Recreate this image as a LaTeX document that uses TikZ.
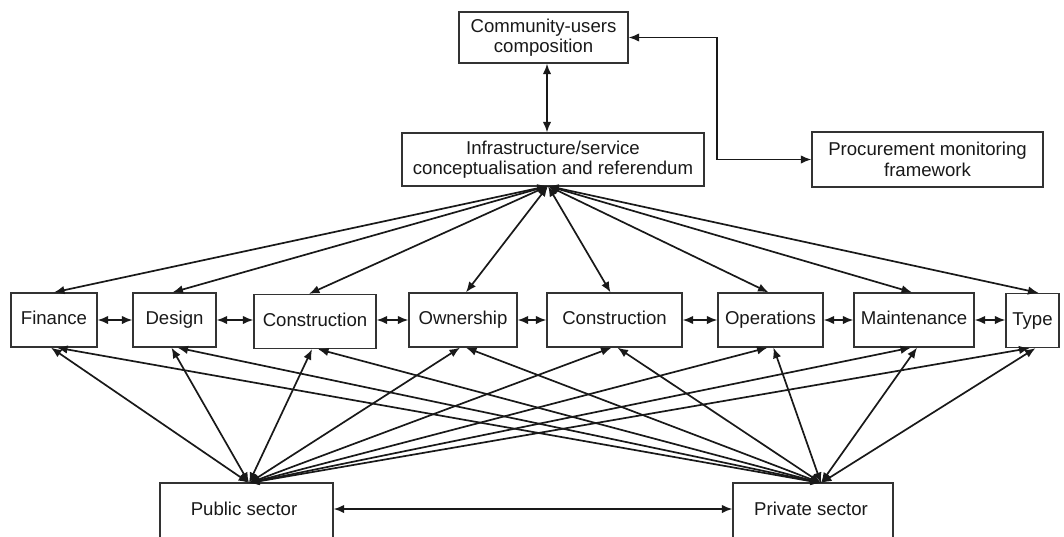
\documentclass[tikz,border=0pt]{standalone}
\usepackage{fontspec}
\setmainfont{Liberation Sans}
\usetikzlibrary{arrows.meta}
\begin{document}
\begin{tikzpicture}[x=1pt,y=-1pt,
  box/.style={draw=black!80, line width=1.3pt, minimum height=54pt, inner sep=0pt, align=center, font=\fontsize{18.6}{20.5}\selectfont, text=black!90},
  rowbox/.style={box, text height=13.5pt, text depth=4pt},
  lbl/.style={inner sep=0pt, font=\fontsize{18.6}{20.5}\selectfont, text=black!90},
  con/.style={line width=1.7pt, draw=black!90, {Latex[length=10.5pt,width=8.5pt]}-{Latex[length=10.5pt,width=8.5pt]}},
]
\clip (0,0) rectangle (1064,536);
\fill[white] (0,0) rectangle (1064,536);
% top boxes
\node[box, minimum width=169pt, minimum height=51pt] (comm) at (543.5,37.5) {Community-users\\composition};
\node[box, minimum width=302pt, minimum height=53pt] (infra) at (553,159.5) {Infrastructure/service\\conceptualisation and referendum};
\node[box, minimum width=231pt, minimum height=55pt] (proc) at (927.5,159.5) {Procurement monitoring\\framework};
% row boxes
\node[rowbox, minimum width=86pt] (fin) at (54,320) {Finance};
\node[rowbox, minimum width=83pt] (des) at (174.5,320) {Design};
\node[rowbox, minimum width=122pt] (con1) at (315,321.5) {Construction};
\node[rowbox, minimum width=108pt] (own) at (463,320) {Ownership};
\node[rowbox, minimum width=135pt] (con2) at (614.5,320) {Construction};
\node[rowbox, minimum width=105pt] (ops) at (770.5,320) {Operations};
\node[rowbox, minimum width=120pt] (mnt) at (914,320) {Maintenance};
\node[rowbox, minimum width=53pt] (typ) at (1032.5,320.5) {Type};
% sector boxes (cut off at the bottom)
\node[box, minimum width=173pt, minimum height=80pt] (pub) at (246.5,523) {};
\node[box, minimum width=160pt, minimum height=80pt] (priv) at (813,523) {};
\node[lbl] (pubt) at (244,509) {Public sector};
\node[lbl] (privt) at (811,509) {Private sector};
% connection points
\coordinate (ca) at (547,0);
\coordinate (elb) at (717,100);
\coordinate (ip) at (548,186);
\coordinate (pp) at (249,483);
\coordinate (vp) at (821,483);
% top connectors
\draw[con] (comm.south -| ca) -- (infra.north -| ca);
\draw[con] (comm.east) -| (elb) |- (proc.west);
% fan from infrastructure
\draw[con] (ip) -- (fin.north);
\draw[con] (ip) -- ([xshift=-2pt]des.north);
\draw[con] (ip) -- ([xshift=-6pt]con1.north);
\draw[con] (ip) -- ([xshift=3pt]own.north);
\draw[con] (ip) -- ([xshift=-4pt]con2.north);
\draw[con] (ip) -- ([xshift=-2pt]ops.north);
\draw[con] (ip) -- ([xshift=-2pt]mnt.north);
\draw[con] (ip) -- ([xshift=6pt]typ.north);
% horizontal links
\draw[con] (fin.east) -- (des.west);
\draw[con] (des.east) -- (con1.west |- des.east);
\draw[con] (con1.east |- own.west) -- (own.west);
\draw[con] (own.east) -- (con2.west);
\draw[con] (con2.east) -- (ops.west);
\draw[con] (ops.east) -- (mnt.west);
\draw[con] (mnt.east) -- (typ.west |- mnt.east);
% fans from sectors
\foreach \b in {fin,des,con1,own,con2,ops,mnt,typ}{
  \draw[con] (pp) -- ([xshift=-3pt]\b.south);
  \draw[con] (vp) -- ([xshift=3pt]\b.south);
}
% public - private
\draw[con] (pub.east |- pubt) -- (priv.west |- pubt);
\end{tikzpicture}
\end{document}
